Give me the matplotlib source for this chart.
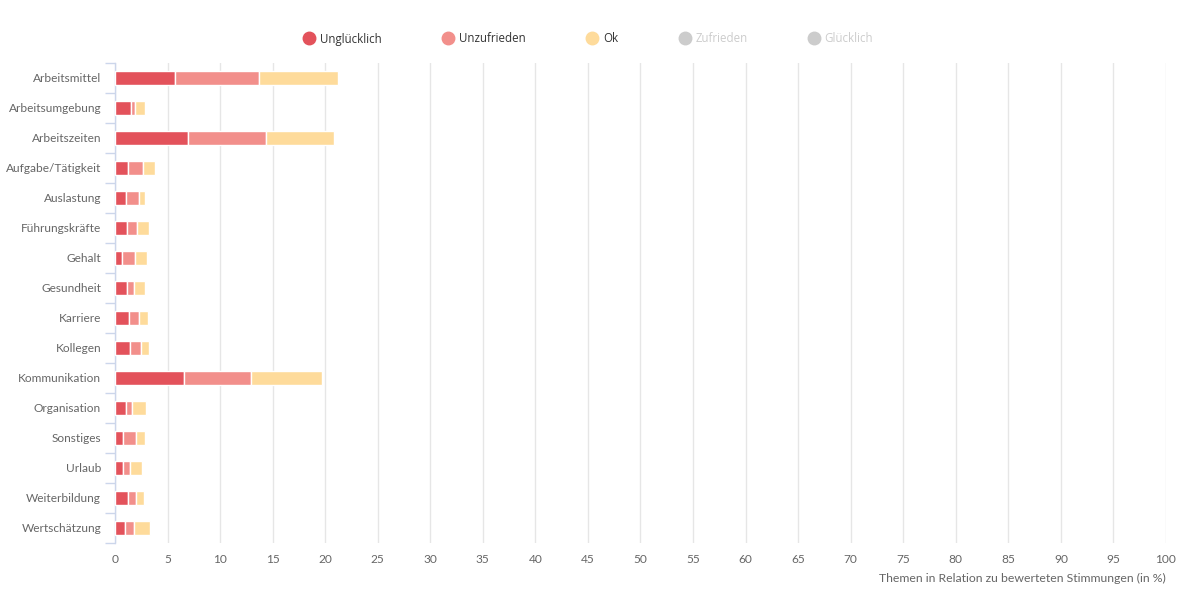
import matplotlib
matplotlib.use("Agg")
import matplotlib.pyplot as plt
from matplotlib.lines import Line2D
import numpy as np

# data (percent)
themen = ["Arbeitsmittel", "Arbeitsumgebung", "Arbeitszeiten", "Aufgabe/Tätigkeit",
          "Auslastung", "Führungskräfte", "Gehalt", "Gesundheit", "Karriere",
          "Kollegen", "Kommunikation", "Organisation", "Sonstiges", "Urlaub",
          "Weiterbildung", "Wertschätzung"]
ungluecklich = [5.67, 1.5, 6.94, 1.24, 1.02, 1.11, 0.64, 1.11, 1.3, 1.4, 6.56, 1.02, 0.73, 0.73, 1.21, 0.92]
unzufrieden = [8.02, 0.38, 7.39, 1.42, 1.23, 0.98, 1.23, 0.67, 0.95, 1.04, 6.34, 0.6, 1.24, 0.67, 0.76, 0.86]
ok = [7.57, 0.95, 6.55, 1.11, 0.57, 1.11, 1.14, 1.04, 0.86, 0.76, 6.75, 1.3, 0.85, 1.14, 0.76, 1.52]
zufrieden = [0] * len(themen)
gluecklich = [0] * len(themen)

serien = ["Unglücklich", "Unzufrieden", "Ok", "Zufrieden", "Glücklich"]
farben = ["#e3525b", "#f28f8b", "#fedb9b", "#cccccc", "#cccccc"]
sichtbar = [True, True, True, False, False]
x_ticks = list(range(0, 101, 5))

plt.rcParams["font.family"] = ["Lato", "DejaVu Sans"]

fig = plt.figure(figsize=(11.77, 6.0), dpi=100)
ax = fig.add_axes([115 / 1177, 57 / 600, 1051 / 1177, 480 / 600])

y = np.arange(len(themen))
left = np.zeros(len(themen))
for name, vals, col, vis in zip(serien, [ungluecklich, unzufrieden, ok, zufrieden, gluecklich], farben, sichtbar):
    if not vis:
        continue
    ax.barh(y, vals, left=left, height=0.47, color=col, edgecolor="white", linewidth=1, zorder=3)
    left += np.array(vals)

ax.set_xlim(0, 100)
ax.set_ylim(len(themen) - 0.5, -0.5)
ax.set_xticks(x_ticks)
ax.set_xticklabels([str(t) for t in x_ticks])
ax.set_yticks(y)
ax.set_yticklabels(themen)
ax.set_yticks(np.arange(-0.5, len(themen)), minor=True)

ax.grid(axis="x", color="#e6e6e6", linewidth=1, zorder=0)
for s in ["top", "right", "bottom"]:
    ax.spines[s].set_visible(False)
ax.spines["left"].set_color("#ccd6eb")
ax.spines["left"].set_linewidth(1)

ax.tick_params(axis="x", length=0, pad=8, labelsize=8.6, labelcolor="#666666")
ax.tick_params(axis="y", which="major", length=0, pad=10, labelsize=8.6, labelcolor="#666666")
ax.tick_params(axis="y", which="minor", length=7.5, color="#ccd6eb", width=1)

fig.text(1166 / 1177, 1 - 578 / 600, "Themen in Relation zu bewerteten Stimmungen (in %)",
         ha="right", va="center", fontsize=8.8, color="#666666")

# legend, hidden series greyed out
handles = [Line2D([], [], linestyle="none", marker="o", markersize=9,
                  markerfacecolor=c, markeredgecolor=c) for c in farben]
leg = fig.legend(handles, serien, loc="center", bbox_to_anchor=(0.5, 1 - 39 / 600), ncol=5,
                 frameon=False, columnspacing=5.3, handletextpad=0.4, handlelength=1.0,
                 prop={"family": ["Open Sans", "DejaVu Sans"], "size": 8.3})
for txt, vis in zip(leg.get_texts(), sichtbar):
    txt.set_color("#333333" if vis else "#cccccc")

fig.savefig("out.png", dpi=100)
